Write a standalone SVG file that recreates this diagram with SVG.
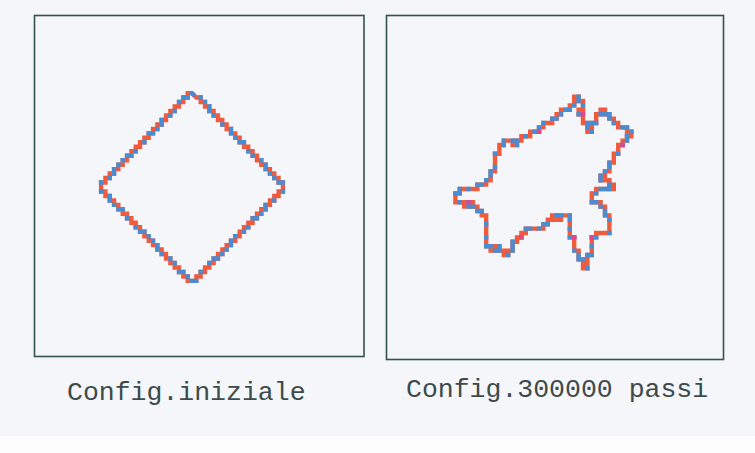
<svg xmlns="http://www.w3.org/2000/svg" width="755" height="453" viewBox="0 0 755 453">
<style>
.frame{fill:none;stroke:#34524f;stroke-width:1.6}
.lbl{font-family:"Liberation Mono","DejaVu Sans Mono",monospace;font-size:26.5px;fill:#3c4a4a}
.chain{fill:none;stroke-width:1;stroke-linejoin:miter;stroke-linecap:square}
.red{stroke:#f15b3d}
.blue{stroke:#4a8cd2;stroke-linecap:butt}
.pink{stroke:#e0468c;stroke-linecap:butt}
</style>
<defs>
<path id="diamond" d="M0 -21 h-1v1h-1v1h-1v1h-1v1h-1v1h-1v1h-1v1h-1v1h-1v1h-1v1h-1v1h-1v1h-1v1h-1v1h-1v1h-1v1h-1v1h-1v1h-1v1h-1v1h-1v1 v1h1v1h1v1h1v1h1v1h1v1h1v1h1v1h1v1h1v1h1v1h1v1h1v1h1v1h1v1h1v1h1v1h1v1h1v1h1v1h1v1h1 h1v-1h1v-1h1v-1h1v-1h1v-1h1v-1h1v-1h1v-1h1v-1h1v-1h1v-1h1v-1h1v-1h1v-1h1v-1h1v-1h1v-1h1v-1h1v-1h1v-1h1v-1 v-1h-1v-1h-1v-1h-1v-1h-1v-1h-1v-1h-1v-1h-1v-1h-1v-1h-1v-1h-1v-1h-1v-1h-1v-1h-1v-1h-1v-1h-1v-1h-1v-1h-1v-1h-1v-1h-1v-1h-1Z"/>
<path id="blob" d="M31 1V2H32V4H31V5H32V7H33V9H34V7H35V5H36V4H37V5H38V6H39V7H40V8H42V9H43V10H42V11H41V12H40V14H39V16H38V18H37V19H36V20H38V21H39V22H35V23H34V25H36V26H37V28H38V32H35V33H34V37H33V40H32V38H31V36H30V33H29V28H27V29H26V28H25V29H24V30H23V31H19V32H18V33H17V34H16V36H15V37H14V36H13V35H12V36H11V35H10V28H9V27H8V26H7V25H6V26H5V25H3V23H4V22H8V21H10V20H11V18H12V14H13V12H14V11H16V12H17V11H18V10H20V9H22V8H23V7H25V6H26V5H27V4H29V3H30V1Z"/>
</defs>
<rect x="0" y="0" width="755" height="453" fill="#f5f6fa"/>
<rect x="0" y="436" width="755" height="17" fill="#fdfdfe"/>
<g id="panel-initial">
<rect class="frame" x="34.5" y="15.5" width="329.5" height="341"/>
<g transform="translate(192,187) scale(4.33,4.47)">
<use href="#diamond" class="chain red"/>
<use href="#diamond" class="chain blue" stroke-dasharray="1 1 2 1 1 2 1 1 1 2 2 1 1 1 2 2 1 3 1 1 2 1 1 1" stroke-dashoffset="0.5"/>
</g>
<text class="lbl" x="67" y="400">Config.iniziale</text>
</g>
<g id="panel-300000">
<rect class="frame" x="386.5" y="15.5" width="337" height="344"/>
<g transform="translate(442.2,92.2) scale(4.4)">
<use href="#blob" class="chain red"/>
<use href="#blob" class="chain blue" stroke-dasharray="2 1 1 2 1 3 2 1 1 1 2 2 1 2 3 1 1 2 2 1 1 1" stroke-dashoffset="0.5"/>
<use href="#blob" class="chain pink" stroke-dasharray="1 29 1 41 1 17 1 23" stroke-dashoffset="-6.5"/>
</g>
<text class="lbl" x="406" y="397">Config.300000 passi</text>
</g>
</svg>
